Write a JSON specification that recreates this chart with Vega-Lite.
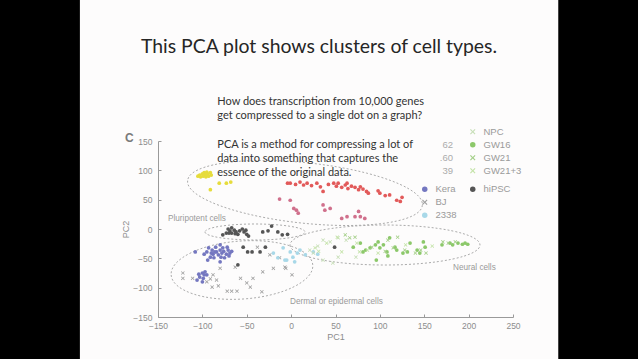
{
"$schema": "https://vega.github.io/schema/vega-lite/v6.json",
"width": 355, "height": 176,
"autosize": {"type": "none"},
"padding": {"left": 158, "top": 141, "right": 125, "bottom": 42},
"background": "#fdfcfc",
"config": {
  "view": {"stroke": null},
  "axisX": {"domainColor": "#9a9a9a", "tickColor": "#9a9a9a", "tickSize": -3, "labelPadding": 7, "labelColor": "#8c8c8c", "labelFont": "Liberation Sans", "labelFontSize": 8.5, "labelOverlap": false, "labelFlush": false, "labelSeparation": 0, "labelBound": false, "titleColor": "#8c8c8c", "titleFont": "Liberation Sans", "titleFontSize": 9, "titleFontWeight": "normal", "titlePadding": 3, "grid": false},
  "axisY": {"domainColor": "#9a9a9a", "tickColor": "#9a9a9a", "tickSize": -3, "labelPadding": 9, "labelColor": "#8c8c8c", "labelFont": "Liberation Sans", "labelFontSize": 8.5, "labelOverlap": false, "labelFlush": false, "labelSeparation": 0, "labelBound": false, "titleColor": "#8c8c8c", "titleFont": "Liberation Sans", "titleFontSize": 9, "titleFontWeight": "normal", "titlePadding": 2, "grid": false},
  "legend": {"labelFont": "Liberation Sans", "labelFontSize": 9.5, "labelColor": "#9a9a9a", "symbolSize": 30, "rowPadding": 2, "labelOffset": 6, "padding": 0}
},
"datasets": {
  "one": [{}],
  "clusters": [
    {"cluster": "top", "cx": 15.6, "cy": 61.4},
    {"cluster": "pluri", "cx": -40.7, "cy": -5.1},
    {"cluster": "dermal", "cx": -55.4, "cy": -69.9},
    {"cluster": "neural", "cx": 105.8, "cy": -27.3}
  ],
  "cells": [
{"type":"yellow","pc1":-105,"pc2":90},{"type":"yellow","pc1":-103,"pc2":92},{"type":"yellow","pc1":-100,"pc2":94},{"type":"yellow","pc1":-98,"pc2":96},{"type":"yellow","pc1":-97,"pc2":92},{"type":"yellow","pc1":-95,"pc2":97},{"type":"yellow","pc1":-94,"pc2":94},{"type":"yellow","pc1":-91,"pc2":96},{"type":"yellow","pc1":-99,"pc2":90},{"type":"yellow","pc1":-96,"pc2":89},{"type":"yellow","pc1":-93,"pc2":90},{"type":"yellow","pc1":-90,"pc2":92},{"type":"yellow","pc1":-102,"pc2":89},{"type":"yellow","pc1":-96,"pc2":94},{"type":"yellow","pc1":-81,"pc2":78},{"type":"yellow","pc1":-73,"pc2":78},{"type":"yellow","pc1":-68,"pc2":80},{"type":"yellow","pc1":-91,"pc2":67},
{"type":"red","pc1":-4,"pc2":78},{"type":"red","pc1":-1,"pc2":78},{"type":"red","pc1":5,"pc2":76},{"type":"red","pc1":10,"pc2":80},{"type":"red","pc1":14,"pc2":75},{"type":"red","pc1":18,"pc2":78},{"type":"red","pc1":23,"pc2":74},{"type":"red","pc1":29,"pc2":78},{"type":"red","pc1":33,"pc2":72},{"type":"red","pc1":36,"pc2":64},{"type":"red","pc1":42,"pc2":76},{"type":"red","pc1":48,"pc2":78},{"type":"red","pc1":51,"pc2":73},{"type":"red","pc1":53,"pc2":78},{"type":"red","pc1":57,"pc2":71},{"type":"red","pc1":61,"pc2":75},{"type":"red","pc1":63,"pc2":78},{"type":"red","pc1":64,"pc2":69},{"type":"red","pc1":68,"pc2":73},{"type":"red","pc1":72,"pc2":71},{"type":"red","pc1":76,"pc2":67},{"type":"red","pc1":78,"pc2":72},{"type":"red","pc1":81,"pc2":68},{"type":"red","pc1":85,"pc2":64},{"type":"red","pc1":87,"pc2":61},{"type":"red","pc1":98,"pc2":65},{"type":"red","pc1":100,"pc2":61},{"type":"red","pc1":106,"pc2":57},{"type":"red","pc1":111,"pc2":58},{"type":"red","pc1":119,"pc2":49},{"type":"red","pc1":125,"pc2":54},{"type":"red","pc1":123,"pc2":47},
{"type":"pink","pc1":-13,"pc2":51},{"type":"pink","pc1":-1,"pc2":49},{"type":"pink","pc1":3,"pc2":35},{"type":"pink","pc1":6,"pc2":32},{"type":"pink","pc1":8,"pc2":27},{"type":"pink","pc1":36,"pc2":41},{"type":"pink","pc1":38,"pc2":32},{"type":"pink","pc1":44,"pc2":35},{"type":"pink","pc1":57,"pc2":18},{"type":"pink","pc1":63,"pc2":21},{"type":"pink","pc1":72,"pc2":21},{"type":"pink","pc1":76,"pc2":30},{"type":"pink","pc1":78,"pc2":21},{"type":"pink","pc1":83,"pc2":18},
{"type":"hiPSC","pc1":-77,"pc2":-10},{"type":"hiPSC","pc1":-73,"pc2":-7},{"type":"hiPSC","pc1":-71,"pc2":0},{"type":"hiPSC","pc1":-69,"pc2":-3},{"type":"hiPSC","pc1":-67,"pc2":-7},{"type":"hiPSC","pc1":-64,"pc2":-2},{"type":"hiPSC","pc1":-62,"pc2":-5},{"type":"hiPSC","pc1":-60,"pc2":-9},{"type":"hiPSC","pc1":-58,"pc2":-3},{"type":"hiPSC","pc1":-55,"pc2":0},{"type":"hiPSC","pc1":-53,"pc2":-5},{"type":"hiPSC","pc1":-51,"pc2":-2},{"type":"hiPSC","pc1":-50,"pc2":-9},{"type":"hiPSC","pc1":-48,"pc2":-12},{"type":"hiPSC","pc1":-70,"pc2":-7},{"type":"hiPSC","pc1":-63,"pc2":-8},{"type":"hiPSC","pc1":-67,"pc2":2},{"type":"hiPSC","pc1":-32,"pc2":-5},{"type":"hiPSC","pc1":-26,"pc2":-3},{"type":"hiPSC","pc1":-22,"pc2":5},{"type":"hiPSC","pc1":-15,"pc2":-5},{"type":"hiPSC","pc1":-10,"pc2":-10},{"type":"hiPSC","pc1":-4,"pc2":-9},{"type":"hiPSC","pc1":-54,"pc2":-31},{"type":"hiPSC","pc1":-49,"pc2":-39},{"type":"hiPSC","pc1":-44,"pc2":-39},{"type":"hiPSC","pc1":-35,"pc2":-39},{"type":"hiPSC","pc1":-29,"pc2":-31},{"type":"hiPSC","pc1":-60,"pc2":-61},{"type":"hiPSC","pc1":49,"pc2":-31},
{"type":"Kera","pc1":-108,"pc2":-39},{"type":"Kera","pc1":-98,"pc2":-43},{"type":"Kera","pc1":-95,"pc2":-39},{"type":"Kera","pc1":-93,"pc2":-32},{"type":"Kera","pc1":-91,"pc2":-48},{"type":"Kera","pc1":-89,"pc2":-36},{"type":"Kera","pc1":-88,"pc2":-43},{"type":"Kera","pc1":-87,"pc2":-49},{"type":"Kera","pc1":-85,"pc2":-31},{"type":"Kera","pc1":-84,"pc2":-39},{"type":"Kera","pc1":-82,"pc2":-44},{"type":"Kera","pc1":-80,"pc2":-27},{"type":"Kera","pc1":-80,"pc2":-36},{"type":"Kera","pc1":-79,"pc2":-48},{"type":"Kera","pc1":-78,"pc2":-41},{"type":"Kera","pc1":-77,"pc2":-32},{"type":"Kera","pc1":-76,"pc2":-38},{"type":"Kera","pc1":-75,"pc2":-49},{"type":"Kera","pc1":-73,"pc2":-43},{"type":"Kera","pc1":-72,"pc2":-31},{"type":"Kera","pc1":-71,"pc2":-36},{"type":"Kera","pc1":-70,"pc2":-46},{"type":"Kera","pc1":-69,"pc2":-41},{"type":"Kera","pc1":-67,"pc2":-38},{"type":"Kera","pc1":-94,"pc2":-53},{"type":"Kera","pc1":-80,"pc2":-56},{"type":"Kera","pc1":-86,"pc2":-39},{"type":"Kera","pc1":-90,"pc2":-41},{"type":"Kera","pc1":-103,"pc2":-82},{"type":"Kera","pc1":-100,"pc2":-75},{"type":"Kera","pc1":-99,"pc2":-84},{"type":"Kera","pc1":-97,"pc2":-73},{"type":"Kera","pc1":-95,"pc2":-78},{"type":"Kera","pc1":-106,"pc2":-87},{"type":"Kera","pc1":-100,"pc2":-90},{"type":"Kera","pc1":-98,"pc2":-78},{"type":"Kera","pc1":-104,"pc2":-77},
{"type":"BJ","pc1":-122,"pc2":-75},{"type":"BJ","pc1":-122,"pc2":-84},{"type":"BJ","pc1":-111,"pc2":-84},{"type":"BJ","pc1":-91,"pc2":-85},{"type":"BJ","pc1":-84,"pc2":-87},{"type":"BJ","pc1":-80,"pc2":-67},{"type":"BJ","pc1":-89,"pc2":-99},{"type":"BJ","pc1":-82,"pc2":-97},{"type":"BJ","pc1":-72,"pc2":-106},{"type":"BJ","pc1":-67,"pc2":-106},{"type":"BJ","pc1":-61,"pc2":-106},{"type":"BJ","pc1":-57,"pc2":-84},{"type":"BJ","pc1":-50,"pc2":-92},{"type":"BJ","pc1":-43,"pc2":-84},{"type":"BJ","pc1":-32,"pc2":-73},{"type":"BJ","pc1":-33,"pc2":-107},{"type":"BJ","pc1":-20,"pc2":-67},{"type":"BJ","pc1":-13,"pc2":-49},{"type":"BJ","pc1":-7,"pc2":-65},{"type":"BJ","pc1":-38,"pc2":-31},{"type":"BJ","pc1":-24,"pc2":-44},{"type":"BJ","pc1":-46,"pc2":-99},{"type":"BJ","pc1":-88,"pc2":-78},{"type":"BJ","pc1":-95,"pc2":-90},{"type":"BJ","pc1":-63,"pc2":-65},{"type":"BJ","pc1":-6,"pc2":-67},{"type":"BJ","pc1":1,"pc2":-78},
{"type":"2338","pc1":-9,"pc2":-32},{"type":"2338","pc1":-1,"pc2":-39},{"type":"2338","pc1":2,"pc2":-48},{"type":"2338","pc1":7,"pc2":-41},{"type":"2338","pc1":10,"pc2":-36},{"type":"2338","pc1":4,"pc2":-56},{"type":"2338","pc1":-5,"pc2":-53},{"type":"2338","pc1":16,"pc2":-44},{"type":"2338","pc1":-20,"pc2":-41},{"type":"2338","pc1":-15,"pc2":-49},{"type":"2338","pc1":-7,"pc2":-53},{"type":"2338","pc1":25,"pc2":-39},{"type":"2338","pc1":30,"pc2":-43},
{"type":"NPC","pc1":21,"pc2":-36},{"type":"NPC","pc1":25,"pc2":-41},{"type":"NPC","pc1":36,"pc2":-19},{"type":"NPC","pc1":44,"pc2":-22},{"type":"NPC","pc1":53,"pc2":-15},{"type":"NPC","pc1":36,"pc2":-53},{"type":"NPC","pc1":47,"pc2":-58},{"type":"NPC","pc1":53,"pc2":-48},{"type":"NPC","pc1":73,"pc2":-48},{"type":"NPC","pc1":62,"pc2":-19},{"type":"NPC","pc1":30,"pc2":-29},
{"type":"GW16","pc1":70,"pc2":-31},{"type":"GW16","pc1":78,"pc2":-24},{"type":"GW16","pc1":81,"pc2":-39},{"type":"GW16","pc1":89,"pc2":-32},{"type":"GW16","pc1":95,"pc2":-27},{"type":"GW16","pc1":98,"pc2":-22},{"type":"GW16","pc1":100,"pc2":-32},{"type":"GW16","pc1":104,"pc2":-27},{"type":"GW16","pc1":108,"pc2":-39},{"type":"GW16","pc1":111,"pc2":-15},{"type":"GW16","pc1":117,"pc2":-31},{"type":"GW16","pc1":119,"pc2":-36},{"type":"GW16","pc1":126,"pc2":-41},{"type":"GW16","pc1":131,"pc2":-39},{"type":"GW16","pc1":134,"pc2":-24},{"type":"GW16","pc1":142,"pc2":-36},{"type":"GW16","pc1":145,"pc2":-41},{"type":"GW16","pc1":149,"pc2":-22},{"type":"GW16","pc1":151,"pc2":-31},{"type":"GW16","pc1":170,"pc2":-27},{"type":"GW16","pc1":179,"pc2":-24},{"type":"GW16","pc1":182,"pc2":-27},{"type":"GW16","pc1":188,"pc2":-24},{"type":"GW16","pc1":193,"pc2":-26},{"type":"GW16","pc1":196,"pc2":-24},{"type":"GW16","pc1":199,"pc2":-26},{"type":"GW16","pc1":84,"pc2":-36},{"type":"GW16","pc1":96,"pc2":-53},{"type":"GW16","pc1":109,"pc2":-46},
{"type":"GW21","pc1":61,"pc2":-10},{"type":"GW21","pc1":66,"pc2":-15},{"type":"GW21","pc1":72,"pc2":-14},{"type":"GW21","pc1":91,"pc2":-31},{"type":"GW21","pc1":106,"pc2":-38},{"type":"GW21","pc1":115,"pc2":-32},{"type":"GW21","pc1":120,"pc2":-14},{"type":"GW21","pc1":128,"pc2":-36},{"type":"GW21","pc1":140,"pc2":-41},{"type":"GW21","pc1":146,"pc2":-36},{"type":"GW21","pc1":152,"pc2":-41},{"type":"GW21","pc1":171,"pc2":-22},{"type":"GW21","pc1":177,"pc2":-24},{"type":"GW21","pc1":185,"pc2":-22},{"type":"GW21","pc1":109,"pc2":-19},
{"type":"GW21+3","pc1":27,"pc2":-32},{"type":"GW21+3","pc1":31,"pc2":-38},{"type":"GW21+3","pc1":40,"pc2":-24},{"type":"GW21+3","pc1":52,"pc2":-14},{"type":"GW21+3","pc1":74,"pc2":-24},{"type":"GW21+3","pc1":86,"pc2":-36},{"type":"GW21+3","pc1":98,"pc2":-41},{"type":"GW21+3","pc1":57,"pc2":-39},{"type":"GW21+3","pc1":77,"pc2":-39},{"type":"GW21+3","pc1":129,"pc2":-27},{"type":"GW21+3","pc1":159,"pc2":-29}
  ]
},
"layer": [
  {
    "data": {"name": "one"},
    "mark": {"type": "rect", "color": "#000000"},
    "encoding": {
      "x": {"datum": -400, "type": "quantitative", "title": "PC1", "scale": {"domain": [-150, 250], "nice": false, "zero": false}, "axis": {"title": "PC1", "zindex": 1, "labelOverlap": false, "values": [-150, -100, -50, 0, 50, 100, 150, 200, 250]}},
      "x2": {"datum": -238},
      "y": {"datum": 420, "type": "quantitative", "title": "PC2", "scale": {"domain": [-150, 150], "nice": false, "zero": false}, "axis": {"title": "PC2", "zindex": 1, "labelOverlap": false, "values": [-150, -100, -50, 0, 50, 100, 150]}},
      "y2": {"datum": -240}
    }
  },
  {
    "data": {"name": "one"},
    "mark": {"type": "rect", "color": "#000000"},
    "encoding": {
      "x": {"datum": 301, "type": "quantitative", "title": "PC1", "scale": {"domain": [-150, 250], "nice": false, "zero": false}, "axis": {"title": "PC1", "zindex": 1, "labelOverlap": false, "values": [-150, -100, -50, 0, 50, 100, 150, 200, 250]}},
      "x2": {"datum": 500},
      "y": {"datum": 420, "type": "quantitative", "title": "PC2", "scale": {"domain": [-150, 150], "nice": false, "zero": false}, "axis": {"title": "PC2", "zindex": 1, "labelOverlap": false, "values": [-150, -100, -50, 0, 50, 100, 150]}},
      "y2": {"datum": -240}
    }
  },
  {
    "data": {"name": "clusters"},
    "mark": {"type": "point", "filled": false, "size": 4, "color": "#ababab", "strokeWidth": 1, "strokeDash": [2, 2], "opacity": 1},
    "encoding": {
      "x": {"field": "cx", "type": "quantitative", "title": "PC1", "scale": {"domain": [-150, 250], "nice": false, "zero": false}, "axis": {"title": "PC1", "zindex": 1, "labelOverlap": false, "values": [-150, -100, -50, 0, 50, 100, 150, 200, 250]}},
      "y": {"field": "cy", "type": "quantitative", "title": "PC2", "scale": {"domain": [-150, 150], "nice": false, "zero": false}, "axis": {"title": "PC2", "zindex": 1, "labelOverlap": false, "values": [-150, -100, -50, 0, 50, 100, 150]}},
      "shape": {"field": "cluster", "type": "nominal", "legend": null, "scale": {"domain": ["top", "pluri", "dermal", "neural"], "range": [
        "M -117.35 -12.33 A 118 30 6 1 0 117.35 12.33 A 118 30 6 1 0 -117.35 -12.33 Z",
        "M -50 0 A 50 8 0 1 0 50 0 A 50 8 0 1 0 -50 0 Z",
        "M -70.83 4.95 A 71 29 -4 1 0 70.83 -4.95 A 71 29 -4 1 0 -70.83 4.95 Z",
        "M -95 0 A 95 20 0 1 0 95 0 A 95 20 0 1 0 -95 0 Z"]}}
    }
  },
  {
    "data": {"name": "cells"},
    "transform": [{"filter": {"field": "type", "oneOf": ["yellow", "red", "pink"]}}],
    "mark": {"type": "point", "filled": true, "size": 14, "opacity": 1},
    "encoding": {
      "x": {"field": "pc1", "type": "quantitative", "title": "PC1", "scale": {"domain": [-150, 250], "nice": false, "zero": false}, "axis": {"title": "PC1", "zindex": 1, "labelOverlap": false, "values": [-150, -100, -50, 0, 50, 100, 150, 200, 250]}},
      "y": {"field": "pc2", "type": "quantitative", "title": "PC2", "scale": {"domain": [-150, 150], "nice": false, "zero": false}, "axis": {"title": "PC2", "zindex": 1, "labelOverlap": false, "values": [-150, -100, -50, 0, 50, 100, 150]}},
      "color": {"field": "type", "type": "nominal", "legend": null, "scale": {"domain": ["yellow", "red", "pink"], "range": ["#e6dc3c", "#e25a5a", "#d0708c"]}},
      "shape": {"field": "type", "type": "nominal", "legend": null, "scale": {"domain": ["yellow", "red", "pink"], "range": ["circle", "circle", "circle"]}}
    }
  },
  {
    "data": {"name": "cells"},
    "transform": [{"filter": {"field": "type", "oneOf": ["Kera", "BJ", "2338"]}}],
    "mark": {"type": "point", "filled": true, "size": 14, "opacity": 1},
    "encoding": {
      "x": {"field": "pc1", "type": "quantitative", "title": "PC1", "scale": {"domain": [-150, 250], "nice": false, "zero": false}, "axis": {"title": "PC1", "zindex": 1, "labelOverlap": false, "values": [-150, -100, -50, 0, 50, 100, 150, 200, 250]}},
      "y": {"field": "pc2", "type": "quantitative", "title": "PC2", "scale": {"domain": [-150, 150], "nice": false, "zero": false}, "axis": {"title": "PC2", "zindex": 1, "labelOverlap": false, "values": [-150, -100, -50, 0, 50, 100, 150]}},
      "color": {"field": "type", "type": "nominal", "scale": {"domain": ["Kera", "BJ", "2338"], "range": ["#7477c0", "#a0a0a0", "#a8d8e8"]}, "legend": {"title": null, "orient": "none", "legendX": 262, "legendY": 43.5}},
      "shape": {"field": "type", "type": "nominal", "scale": {"domain": ["Kera", "BJ", "2338"], "range": ["circle", "M -1 -0.7 L -0.7 -1 L 0 -0.3 L 0.7 -1 L 1 -0.7 L 0.3 0 L 1 0.7 L 0.7 1 L 0 0.3 L -0.7 1 L -1 0.7 L -0.3 0 Z", "circle"]}, "legend": {"title": null, "orient": "none", "legendX": 262, "legendY": 43.5}}
    }
  },
  {
    "data": {"name": "cells"},
    "transform": [{"filter": {"field": "type", "equal": "hiPSC"}}],
    "mark": {"type": "point", "filled": true, "size": 14, "opacity": 1},
    "encoding": {
      "x": {"field": "pc1", "type": "quantitative", "title": "PC1", "scale": {"domain": [-150, 250], "nice": false, "zero": false}, "axis": {"title": "PC1", "zindex": 1, "labelOverlap": false, "values": [-150, -100, -50, 0, 50, 100, 150, 200, 250]}},
      "y": {"field": "pc2", "type": "quantitative", "title": "PC2", "scale": {"domain": [-150, 150], "nice": false, "zero": false}, "axis": {"title": "PC2", "zindex": 1, "labelOverlap": false, "values": [-150, -100, -50, 0, 50, 100, 150]}},
      "color": {"field": "type", "type": "nominal", "scale": {"domain": ["hiPSC"], "range": ["#555555"]}, "legend": {"title": null, "orient": "none", "legendX": 310, "legendY": 43.5}},
      "shape": {"field": "type", "type": "nominal", "scale": {"domain": ["hiPSC"], "range": ["circle"]}, "legend": {"title": null, "orient": "none", "legendX": 310, "legendY": 43.5}}
    }
  },
  {
    "data": {"name": "cells"},
    "transform": [{"filter": {"field": "type", "oneOf": ["NPC", "GW16", "GW21", "GW21+3"]}}],
    "mark": {"type": "point", "filled": true, "size": 14, "opacity": 1},
    "encoding": {
      "x": {"field": "pc1", "type": "quantitative", "title": "PC1", "scale": {"domain": [-150, 250], "nice": false, "zero": false}, "axis": {"title": "PC1", "zindex": 1, "labelOverlap": false, "values": [-150, -100, -50, 0, 50, 100, 150, 200, 250]}},
      "y": {"field": "pc2", "type": "quantitative", "title": "PC2", "scale": {"domain": [-150, 150], "nice": false, "zero": false}, "axis": {"title": "PC2", "zindex": 1, "labelOverlap": false, "values": [-150, -100, -50, 0, 50, 100, 150]}},
      "color": {"field": "type", "type": "nominal", "scale": {"domain": ["NPC", "GW16", "GW21", "GW21+3"], "range": ["#c8dfb8", "#8cc86a", "#a4cf88", "#c4e3a8"]}, "legend": {"title": null, "orient": "none", "legendX": 310, "legendY": -14}},
      "shape": {"field": "type", "type": "nominal", "scale": {"domain": ["NPC", "GW16", "GW21", "GW21+3"], "range": ["M -1 -0.7 L -0.7 -1 L 0 -0.3 L 0.7 -1 L 1 -0.7 L 0.3 0 L 1 0.7 L 0.7 1 L 0 0.3 L -0.7 1 L -1 0.7 L -0.3 0 Z", "circle", "M -1 -0.7 L -0.7 -1 L 0 -0.3 L 0.7 -1 L 1 -0.7 L 0.3 0 L 1 0.7 L 0.7 1 L 0 0.3 L -0.7 1 L -1 0.7 L -0.3 0 Z", "M -1 -0.7 L -0.7 -1 L 0 -0.3 L 0.7 -1 L 1 -0.7 L 0.3 0 L 1 0.7 L 0.7 1 L 0 0.3 L -0.7 1 L -1 0.7 L -0.3 0 Z"]}, "legend": {"title": null, "orient": "none", "legendX": 310, "legendY": -14}}
    }
  },
  {
    "data": {"name": "one"},
    "mark": {"type": "text", "text": "This PCA plot shows clusters of cell types.", "font": "Lato", "fontSize": 19.4, "color": "#262626", "align": "center", "baseline": "alphabetic"},
    "encoding": {
      "x": {"datum": 31.4, "type": "quantitative", "title": "PC1", "scale": {"domain": [-150, 250], "nice": false, "zero": false}, "axis": {"title": "PC1", "zindex": 1, "labelOverlap": false, "values": [-150, -100, -50, 0, 50, 100, 150, 200, 250]}},
      "y": {"datum": 299.5, "type": "quantitative", "title": "PC2", "scale": {"domain": [-150, 150], "nice": false, "zero": false}, "axis": {"title": "PC2", "zindex": 1, "labelOverlap": false, "values": [-150, -100, -50, 0, 50, 100, 150]}}
    }
  },
  {
    "data": {"name": "one"},
    "mark": {"type": "text", "text": ["How does transcription from 10,000 genes", "get compressed to a single dot on a graph?"], "lineHeight": 14, "font": "Lato", "fontSize": 11, "color": "#333333", "align": "left", "baseline": "alphabetic"},
    "encoding": {
      "x": {"datum": -83.2, "type": "quantitative", "title": "PC1", "scale": {"domain": [-150, 250], "nice": false, "zero": false}, "axis": {"title": "PC1", "zindex": 1, "labelOverlap": false, "values": [-150, -100, -50, 0, 50, 100, 150, 200, 250]}},
      "y": {"datum": 211.5, "type": "quantitative", "title": "PC2", "scale": {"domain": [-150, 150], "nice": false, "zero": false}, "axis": {"title": "PC2", "zindex": 1, "labelOverlap": false, "values": [-150, -100, -50, 0, 50, 100, 150]}}
    }
  },
  {
    "data": {"name": "one"},
    "mark": {"type": "text", "text": ["PCA is a method for compressing a lot of", "data into something that captures the", "essence of the original data."], "lineHeight": 14, "font": "Lato", "fontSize": 11, "color": "#333333", "align": "left", "baseline": "alphabetic"},
    "encoding": {
      "x": {"datum": -83.2, "type": "quantitative", "title": "PC1", "scale": {"domain": [-150, 250], "nice": false, "zero": false}, "axis": {"title": "PC1", "zindex": 1, "labelOverlap": false, "values": [-150, -100, -50, 0, 50, 100, 150, 200, 250]}},
      "y": {"datum": 138.5, "type": "quantitative", "title": "PC2", "scale": {"domain": [-150, 150], "nice": false, "zero": false}, "axis": {"title": "PC2", "zindex": 1, "labelOverlap": false, "values": [-150, -100, -50, 0, 50, 100, 150]}}
    }
  },
  {
    "data": {"name": "one"},
    "mark": {"type": "text", "text": "C", "font": "Liberation Sans", "fontWeight": "bold", "fontSize": 12, "color": "#7a7a7a", "align": "left", "baseline": "alphabetic"},
    "encoding": {
      "x": {"datum": -187.2, "type": "quantitative", "title": "PC1", "scale": {"domain": [-150, 250], "nice": false, "zero": false}, "axis": {"title": "PC1", "zindex": 1, "labelOverlap": false, "values": [-150, -100, -50, 0, 50, 100, 150, 200, 250]}},
      "y": {"datum": 148.3, "type": "quantitative", "title": "PC2", "scale": {"domain": [-150, 150], "nice": false, "zero": false}, "axis": {"title": "PC2", "zindex": 1, "labelOverlap": false, "values": [-150, -100, -50, 0, 50, 100, 150]}}
    }
  },
  {
    "data": {"name": "one"},
    "mark": {"type": "text", "text": ["62", ".60", "39"], "lineHeight": 13, "font": "Liberation Sans", "fontSize": 9.5, "color": "#ababab", "align": "right", "baseline": "middle"},
    "encoding": {
      "x": {"datum": 182.4, "type": "quantitative", "title": "PC1", "scale": {"domain": [-150, 250], "nice": false, "zero": false}, "axis": {"title": "PC1", "zindex": 1, "labelOverlap": false, "values": [-150, -100, -50, 0, 50, 100, 150, 200, 250]}},
      "y": {"datum": 144, "type": "quantitative", "title": "PC2", "scale": {"domain": [-150, 150], "nice": false, "zero": false}, "axis": {"title": "PC2", "zindex": 1, "labelOverlap": false, "values": [-150, -100, -50, 0, 50, 100, 150]}}
    }
  },
  {
    "data": {"name": "one"},
    "mark": {"type": "text", "text": "Pluripotent cells", "font": "Liberation Sans", "fontSize": 8.2, "color": "#9a9a9a", "align": "left", "baseline": "middle"},
    "encoding": {
      "x": {"datum": -138.7, "type": "quantitative", "title": "PC1", "scale": {"domain": [-150, 250], "nice": false, "zero": false}, "axis": {"title": "PC1", "zindex": 1, "labelOverlap": false, "values": [-150, -100, -50, 0, 50, 100, 150, 200, 250]}},
      "y": {"datum": 17.1, "type": "quantitative", "title": "PC2", "scale": {"domain": [-150, 150], "nice": false, "zero": false}, "axis": {"title": "PC2", "zindex": 1, "labelOverlap": false, "values": [-150, -100, -50, 0, 50, 100, 150]}}
    }
  },
  {
    "data": {"name": "one"},
    "mark": {"type": "text", "text": "Dermal or epidermal cells", "font": "Liberation Sans", "fontSize": 8.2, "color": "#9a9a9a", "align": "left", "baseline": "middle"},
    "encoding": {
      "x": {"datum": -1.3, "type": "quantitative", "title": "PC1", "scale": {"domain": [-150, 250], "nice": false, "zero": false}, "axis": {"title": "PC1", "zindex": 1, "labelOverlap": false, "values": [-150, -100, -50, 0, 50, 100, 150, 200, 250]}},
      "y": {"datum": -123.9, "type": "quantitative", "title": "PC2", "scale": {"domain": [-150, 150], "nice": false, "zero": false}, "axis": {"title": "PC2", "zindex": 1, "labelOverlap": false, "values": [-150, -100, -50, 0, 50, 100, 150]}}
    }
  },
  {
    "data": {"name": "one"},
    "mark": {"type": "text", "text": "Neural cells", "font": "Liberation Sans", "fontSize": 8.2, "color": "#9a9a9a", "align": "left", "baseline": "middle"},
    "encoding": {
      "x": {"datum": 182.4, "type": "quantitative", "title": "PC1", "scale": {"domain": [-150, 250], "nice": false, "zero": false}, "axis": {"title": "PC1", "zindex": 1, "labelOverlap": false, "values": [-150, -100, -50, 0, 50, 100, 150, 200, 250]}},
      "y": {"datum": -66.5, "type": "quantitative", "title": "PC2", "scale": {"domain": [-150, 150], "nice": false, "zero": false}, "axis": {"title": "PC2", "zindex": 1, "labelOverlap": false, "values": [-150, -100, -50, 0, 50, 100, 150]}}
    }
  }
],
"resolve": {"scale": {"color": "independent", "shape": "independent"}}
}
